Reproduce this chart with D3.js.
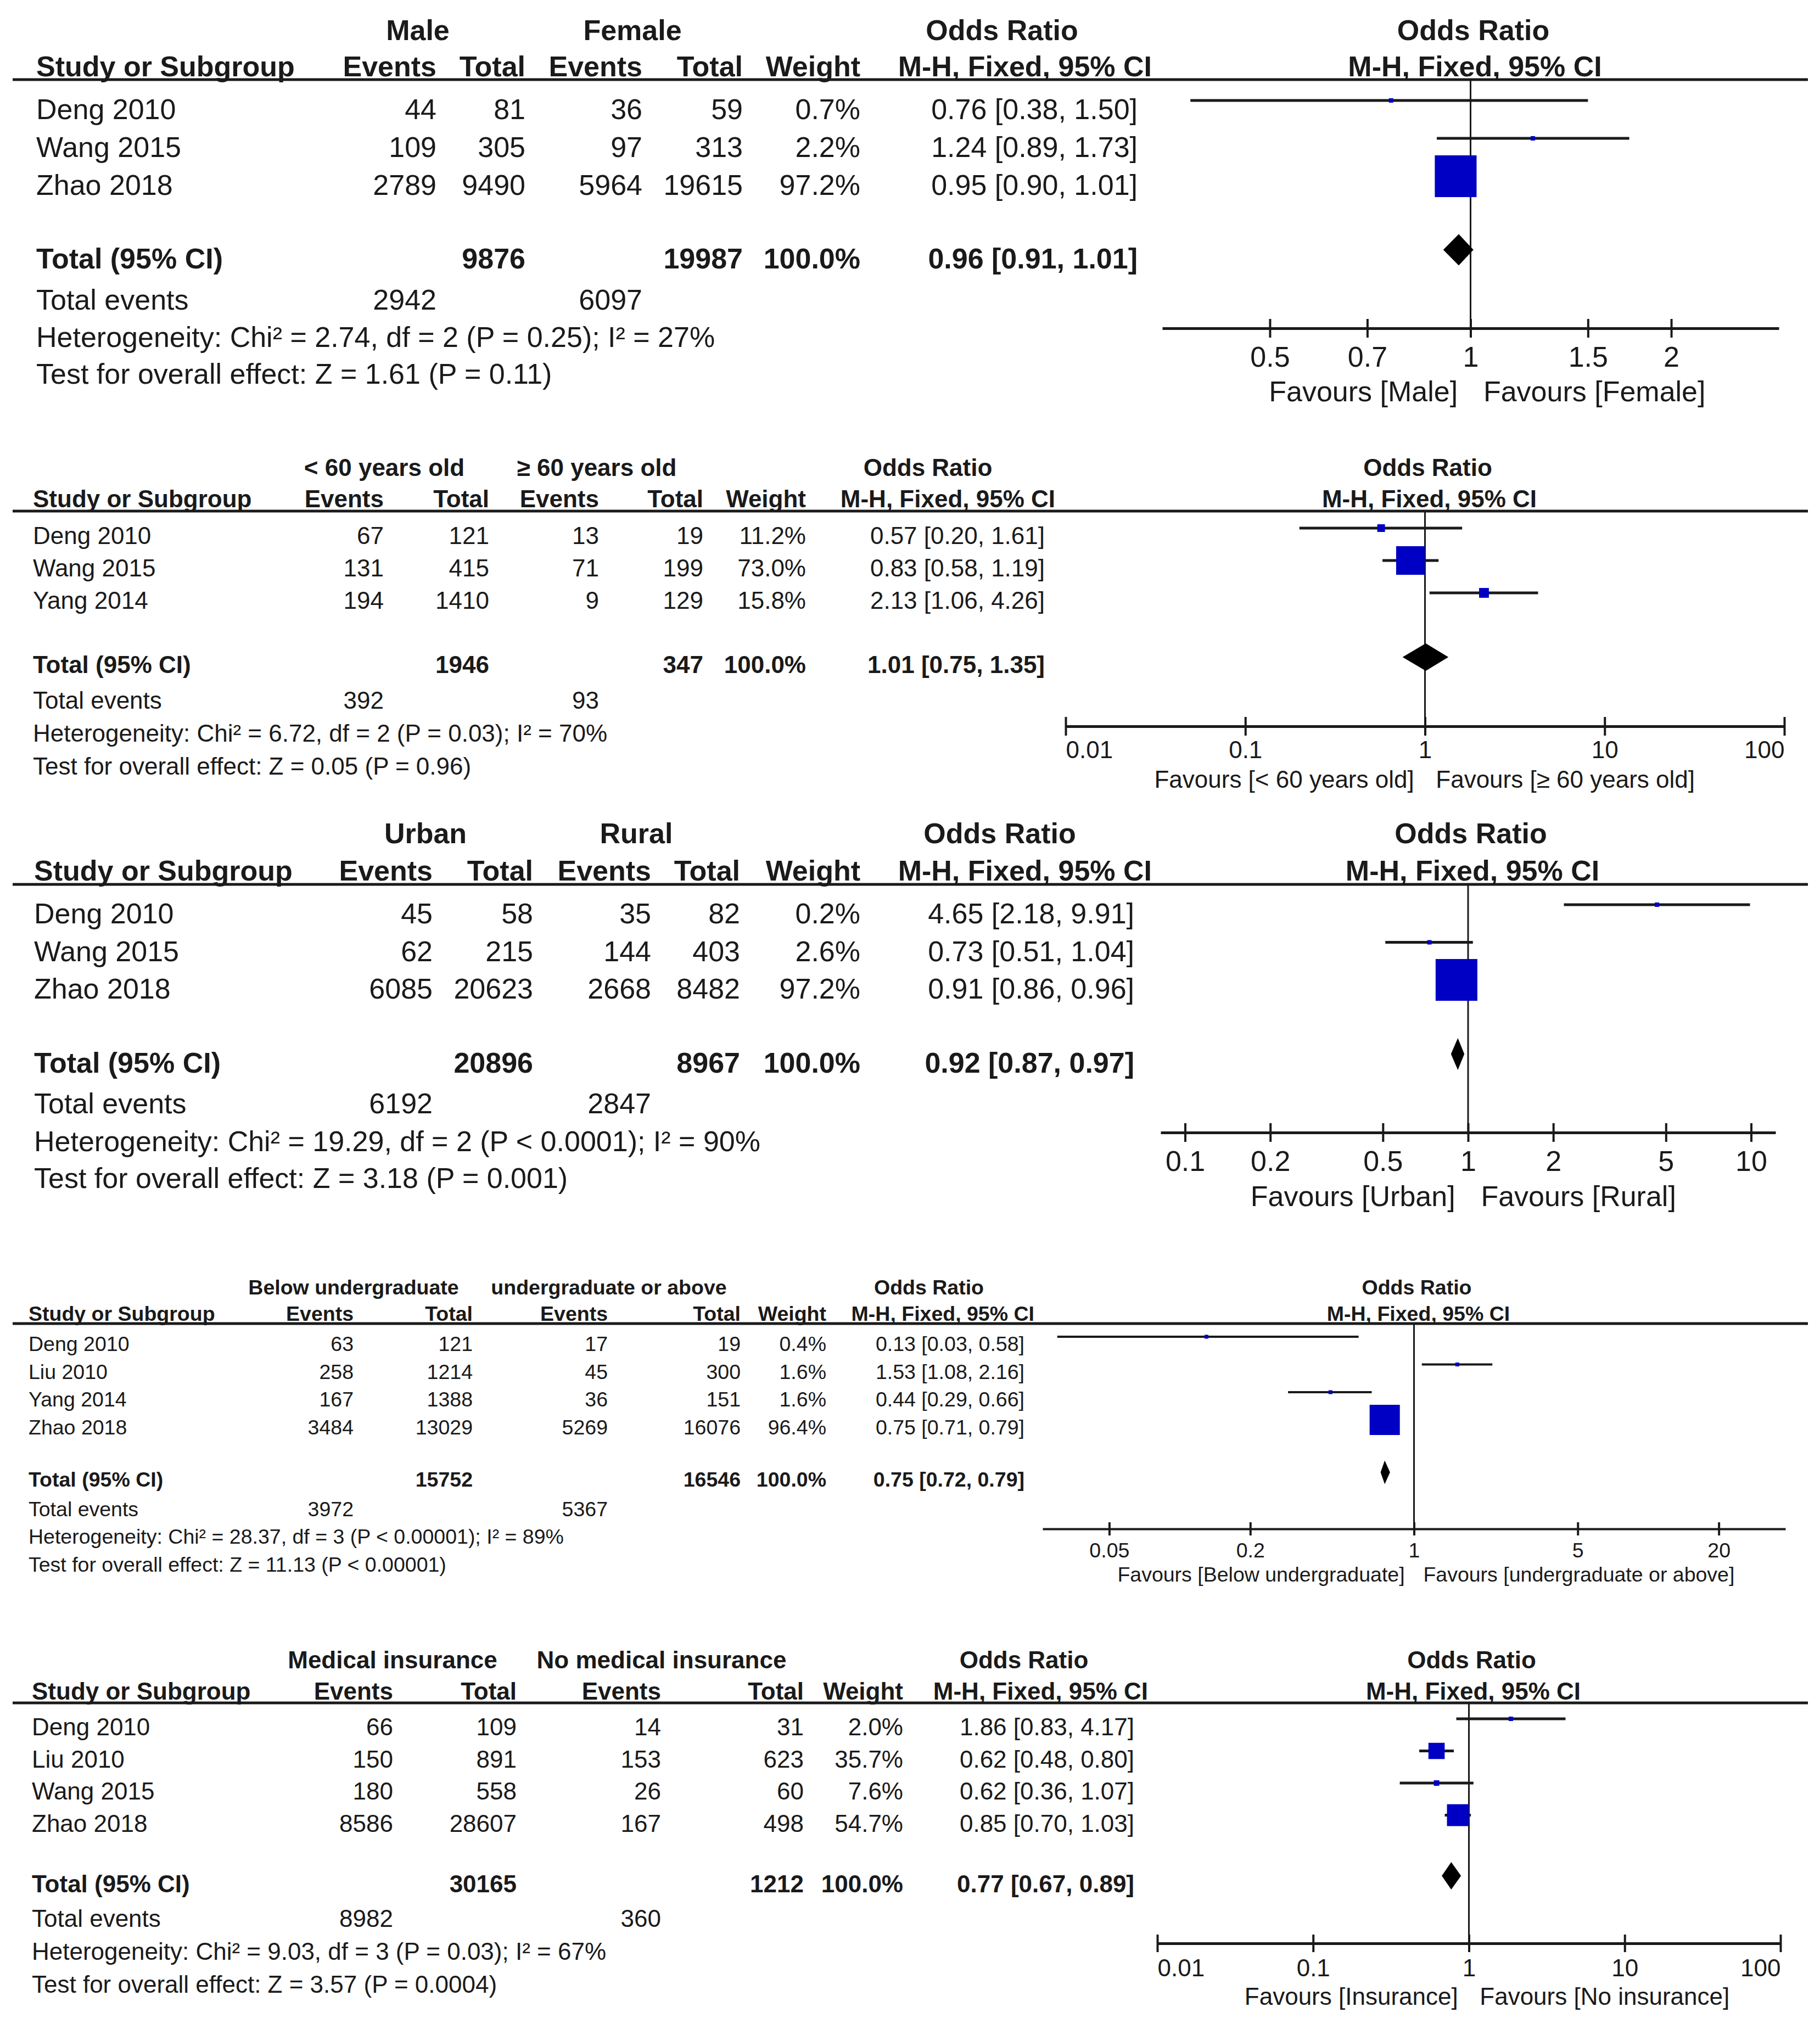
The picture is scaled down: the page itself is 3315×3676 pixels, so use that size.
<!DOCTYPE html>
<html>
<head>
<meta charset="utf-8">
<script src="https://cdn.jsdelivr.net/npm/d3@7"></script>
<style>
  body { margin: 0; background: #fff; }
  text { font-family: "Liberation Sans", Arial, sans-serif; fill: #1a1a1a; }
</style>
</head>
<body>
<div id="content"></div>
<script>
// ---------- data ----------

// sex
var sexGroups = ["Male", "Female"]
var sexStudies = ["Deng 2010", "Wang 2015", "Zhao 2018"]
var sexEv1 = [44, 109, 2789]
var sexN1 = [81, 305, 9490]
var sexEv2 = [36, 97, 5964]
var sexN2 = [59, 313, 19615]
var sexWeight = [0.7, 2.2, 97.2]
var sexOR = [0.76, 1.24, 0.95]
var sexLo = [0.38, 0.89, 0.90]
var sexHi = [1.50, 1.73, 1.01]
var sexTotal = [9876, 19987, 2942, 6097]
var sexPooled = [0.96, 0.91, 1.01]
var sexStats = ["Heterogeneity: Chi\u00b2 = 2.74, df = 2 (P = 0.25); I\u00b2 = 27%", "Test for overall effect: Z = 1.61 (P = 0.11)"]
var sexFavours = ["Favours [Male]", "Favours [Female]"]
var sexTicks = [0.5, 0.7, 1, 1.5, 2]

// age
var ageGroups = ["< 60 years old", "\u2265 60 years old"]
var ageStudies = ["Deng 2010", "Wang 2015", "Yang 2014"]
var ageEv1 = [67, 131, 194]
var ageN1 = [121, 415, 1410]
var ageEv2 = [13, 71, 9]
var ageN2 = [19, 199, 129]
var ageWeight = [11.2, 73.0, 15.8]
var ageOR = [0.57, 0.83, 2.13]
var ageLo = [0.20, 0.58, 1.06]
var ageHi = [1.61, 1.19, 4.26]
var ageTotal = [1946, 347, 392, 93]
var agePooled = [1.01, 0.75, 1.35]
var ageStats = ["Heterogeneity: Chi\u00b2 = 6.72, df = 2 (P = 0.03); I\u00b2 = 70%", "Test for overall effect: Z = 0.05 (P = 0.96)"]
var ageFavours = ["Favours [< 60 years old]", "Favours [\u2265 60 years old]"]
var ageTicks = [0.01, 0.1, 1, 10, 100]

// residence
var resGroups = ["Urban", "Rural"]
var resStudies = ["Deng 2010", "Wang 2015", "Zhao 2018"]
var resEv1 = [45, 62, 6085]
var resN1 = [58, 215, 20623]
var resEv2 = [35, 144, 2668]
var resN2 = [82, 403, 8482]
var resWeight = [0.2, 2.6, 97.2]
var resOR = [4.65, 0.73, 0.91]
var resLo = [2.18, 0.51, 0.86]
var resHi = [9.91, 1.04, 0.96]
var resTotal = [20896, 8967, 6192, 2847]
var resPooled = [0.92, 0.87, 0.97]
var resStats = ["Heterogeneity: Chi\u00b2 = 19.29, df = 2 (P < 0.0001); I\u00b2 = 90%", "Test for overall effect: Z = 3.18 (P = 0.001)"]
var resFavours = ["Favours [Urban]", "Favours [Rural]"]
var resTicks = [0.1, 0.2, 0.5, 1, 2, 5, 10]

// education
var eduGroups = ["Below undergraduate", "undergraduate or above"]
var eduStudies = ["Deng 2010", "Liu 2010", "Yang 2014", "Zhao 2018"]
var eduEv1 = [63, 258, 167, 3484]
var eduN1 = [121, 1214, 1388, 13029]
var eduEv2 = [17, 45, 36, 5269]
var eduN2 = [19, 300, 151, 16076]
var eduWeight = [0.4, 1.6, 1.6, 96.4]
var eduOR = [0.13, 1.53, 0.44, 0.75]
var eduLo = [0.03, 1.08, 0.29, 0.71]
var eduHi = [0.58, 2.16, 0.66, 0.79]
var eduTotal = [15752, 16546, 3972, 5367]
var eduPooled = [0.75, 0.72, 0.79]
var eduStats = ["Heterogeneity: Chi\u00b2 = 28.37, df = 3 (P < 0.00001); I\u00b2 = 89%", "Test for overall effect: Z = 11.13 (P < 0.00001)"]
var eduFavours = ["Favours [Below undergraduate]", "Favours [undergraduate or above]"]
var eduTicks = [0.05, 0.2, 1, 5, 20]

// insurance
var insGroups = ["Medical insurance", "No medical insurance"]
var insStudies = ["Deng 2010", "Liu 2010", "Wang 2015", "Zhao 2018"]
var insEv1 = [66, 150, 180, 8586]
var insN1 = [109, 891, 558, 28607]
var insEv2 = [14, 153, 26, 167]
var insN2 = [31, 623, 60, 498]
var insWeight = [2.0, 35.7, 7.6, 54.7]
var insOR = [1.86, 0.62, 0.62, 0.85]
var insLo = [0.83, 0.48, 0.36, 0.70]
var insHi = [4.17, 0.80, 1.07, 1.03]
var insTotal = [30165, 1212, 8982, 360]
var insPooled = [0.77, 0.67, 0.89]
var insStats = ["Heterogeneity: Chi\u00b2 = 9.03, df = 3 (P = 0.03); I\u00b2 = 67%", "Test for overall effect: Z = 3.57 (P = 0.0004)"]
var insFavours = ["Favours [Insurance]", "Favours [No insurance]"]
var insTicks = [0.01, 0.1, 1, 10, 100]

// ---------- layout of each panel (pixels) ----------
var layouts = [
  {fs:52, groupY:73, colY:139, lineY:145, row0:217, step:69, totalY:489, teY:564, hetY:632, testY:699,
   study:66, cols:[795,957,1170,1353,1567], orRight:2072, mhRight:2098, orTitle:1825, grp:[761,1152],
   domain:[1/2.9, 2.9], range:[2117,3240], axisY:598, tick:17, tickLabY:668, favY:731,
   off:34, boxMax:77.6, boxMin:8, diamondH:57, ciW:5},
  {fs:44, groupY:867, colY:924, lineY:931, row0:991, step:59, totalY:1226, teY:1291, hetY:1351, testY:1411,
   study:60, cols:[699,891,1091,1281,1468], orRight:1903, mhRight:1922, orTitle:1690, grp:[700,1087],
   domain:[0.01, 100], range:[1941,3250], axisY:1323, tick:17, tickLabY:1381, favY:1435,
   off:29, boxMax:65, boxMin:8, diamondH:50, ciW:5},
  {fs:52, groupY:1536, colY:1604, lineY:1611, row0:1682, step:68.5, totalY:1954, teY:2028, hetY:2097, testY:2164,
   study:62, cols:[788,971,1186,1348,1567], orRight:2066, mhRight:2098, orTitle:1821, grp:[775,1159],
   domain:[1/12.2, 12.2], range:[2114,3234], axisY:2063, tick:17, tickLabY:2133, favY:2197,
   off:34, boxMax:77.6, boxMin:8, diamondH:58, ciW:5},
  {fs:37.5, groupY:2358, colY:2406, lineY:2411, row0:2461, step:50.5, totalY:2708, teY:2762, hetY:2812, testY:2863,
   study:52, cols:[644,861,1107,1349,1505], orRight:1866, mhRight:1884, orTitle:1692, grp:[644,1109],
   domain:[1/38.5, 38.5], range:[1899,3252], axisY:2785, tick:12, tickLabY:2837, favY:2881,
   off:26, boxMax:56.5, boxMin:7, diamondH:43, ciW:4},
  {fs:44, groupY:3039, colY:3096, lineY:3102, row0:3161, step:58.5, totalY:3447, teY:3510, hetY:3570, testY:3630,
   study:58, cols:[716,941,1204,1464,1645], orRight:2066, mhRight:2091, orTitle:1865, grp:[715,1205],
   domain:[0.01, 100], range:[2108,3243], axisY:3540, tick:16, tickLabY:3600, favY:3652,
   off:30, boxMax:60.8, boxMin:8, diamondH:50, ciW:5}
]

// build panel tables from the arrays above
var panels = [
  {groups:sexGroups, studies:sexStudies, ev1:sexEv1, n1:sexN1, ev2:sexEv2, n2:sexN2, w:sexWeight, or:sexOR, lo:sexLo, hi:sexHi, total:sexTotal, pooled:sexPooled, stats:sexStats, fav:sexFavours, ticks:sexTicks},
  {groups:ageGroups, studies:ageStudies, ev1:ageEv1, n1:ageN1, ev2:ageEv2, n2:ageN2, w:ageWeight, or:ageOR, lo:ageLo, hi:ageHi, total:ageTotal, pooled:agePooled, stats:ageStats, fav:ageFavours, ticks:ageTicks},
  {groups:resGroups, studies:resStudies, ev1:resEv1, n1:resN1, ev2:resEv2, n2:resN2, w:resWeight, or:resOR, lo:resLo, hi:resHi, total:resTotal, pooled:resPooled, stats:resStats, fav:resFavours, ticks:resTicks},
  {groups:eduGroups, studies:eduStudies, ev1:eduEv1, n1:eduN1, ev2:eduEv2, n2:eduN2, w:eduWeight, or:eduOR, lo:eduLo, hi:eduHi, total:eduTotal, pooled:eduPooled, stats:eduStats, fav:eduFavours, ticks:eduTicks},
  {groups:insGroups, studies:insStudies, ev1:insEv1, n1:insN1, ev2:insEv2, n2:insN2, w:insWeight, or:insOR, lo:insLo, hi:insHi, total:insTotal, pooled:insPooled, stats:insStats, fav:insFavours, ticks:insTicks}
]

var ink = "#1a1a1a"
var boxBlue = "#0000c4"

function fmtCI(o, l, h) {
  return o.toFixed(2) + " [" + l.toFixed(2) + ", " + h.toFixed(2) + "]"
}

var svg = d3.select("#content").append("svg")
  .attr("width", 3315)
  .attr("height", 3676)

svg.append("rect").attr("width", 3315).attr("height", 3676).attr("fill", "#fff")

function drawPanel(d, L) {
  var g = svg.append("g")
  var fs = L.fs

  function txt(x, y, s, anchor, bold) {
    g.append("text")
      .attr("x", x)
      .attr("y", y)
      .attr("text-anchor", anchor || "start")
      .style("font-size", fs + "px")
      .style("font-weight", bold ? "bold" : "normal")
      .text(s)
  }

  var x = d3.scaleLog().domain(L.domain).range(L.range)
  var boxSize = d3.scalePow().exponent(0.7).domain([0, 100]).range([0, L.boxMax])
  var yRow = d3.scaleLinear().domain([0, 1]).range([L.row0, L.row0 + L.step])

  // header texts
  txt(L.grp[0], L.groupY, d.groups[0], "middle", true)
  txt(L.grp[1], L.groupY, d.groups[1], "middle", true)
  txt(L.orTitle, L.groupY, "Odds Ratio", "middle", true)
  txt(x(1) + 5, L.groupY, "Odds Ratio", "middle", true)

  txt(L.study, L.colY, "Study or Subgroup", "start", true)
  var colNames = ["Events", "Total", "Events", "Total", "Weight"]
  L.cols.forEach(function(cx, i) { txt(cx, L.colY, colNames[i], "end", true) })
  txt(L.mhRight, L.colY, "M-H, Fixed, 95% CI", "end", true)
  txt(x(1) + 8, L.colY, "M-H, Fixed, 95% CI", "middle", true)

  // rule under the headers
  g.append("line")
    .attr("x1", 23).attr("x2", 3293)
    .attr("y1", L.lineY).attr("y2", L.lineY)
    .attr("stroke", ink).attr("stroke-width", 5)

  // study rows
  d.studies.forEach(function(s, i) {
    var y = yRow(i)
    txt(L.study, y, s)
    txt(L.cols[0], y, d.ev1[i], "end")
    txt(L.cols[1], y, d.n1[i], "end")
    txt(L.cols[2], y, d.ev2[i], "end")
    txt(L.cols[3], y, d.n2[i], "end")
    txt(L.cols[4], y, d.w[i].toFixed(1) + "%", "end")
    txt(L.orRight, y, fmtCI(d.or[i], d.lo[i], d.hi[i]), "end")
  })

  // totals
  txt(L.study, L.totalY, "Total (95% CI)", "start", true)
  txt(L.cols[1], L.totalY, d.total[0], "end", true)
  txt(L.cols[3], L.totalY, d.total[1], "end", true)
  txt(L.cols[4], L.totalY, "100.0%", "end", true)
  txt(L.orRight, L.totalY, fmtCI(d.pooled[0], d.pooled[1], d.pooled[2]), "end", true)

  txt(L.study, L.teY, "Total events")
  txt(L.cols[0], L.teY, d.total[2], "end")
  txt(L.cols[2], L.teY, d.total[3], "end")
  txt(L.study, L.hetY, d.stats[0])
  txt(L.study, L.testY, d.stats[1])

  // line of no effect
  g.append("line")
    .attr("x1", x(1)).attr("x2", x(1))
    .attr("y1", L.lineY).attr("y2", L.axisY)
    .attr("stroke", ink).attr("stroke-width", 3)

  // confidence intervals and boxes
  d.studies.forEach(function(s, i) {
    var y = yRow(i) - L.off
    g.append("line")
      .attr("x1", x(d.lo[i])).attr("x2", x(d.hi[i]))
      .attr("y1", y).attr("y2", y)
      .attr("stroke", ink).attr("stroke-width", L.ciW)
    var side = Math.max(boxSize(d.w[i]), L.boxMin)
    g.append("rect")
      .attr("x", x(d.or[i]) - side / 2)
      .attr("y", y - side / 2)
      .attr("width", side)
      .attr("height", side)
      .attr("fill", boxBlue)
  })

  // pooled diamond
  var yd = L.totalY - L.off
  var h = L.diamondH / 2
  g.append("path")
    .attr("d", "M" + x(d.pooled[1]) + "," + yd +
               "L" + x(d.pooled[0]) + "," + (yd - h) +
               "L" + x(d.pooled[2]) + "," + yd +
               "L" + x(d.pooled[0]) + "," + (yd + h) + "Z")
    .attr("fill", "#000")

  // axis
  var ax = g.append("g")
    .attr("transform", "translate(0," + L.axisY + ")")
    .call(d3.axisBottom(x).tickValues(d.ticks).tickFormat(function(v) { return String(v) }).tickSize(0))
  ax.select(".domain").attr("stroke", ink).attr("stroke-width", L.ciW)
  ax.selectAll(".tick line")
    .attr("y1", -L.tick).attr("y2", L.tick)
    .attr("stroke", ink).attr("stroke-width", 4)
  ax.selectAll(".tick text")
    .attr("y", L.tickLabY - L.axisY)
    .attr("dy", null)
    .attr("text-anchor", function(v) {
      // labels sitting on the ends of the axis are kept inside it
      if (Math.abs(x(v) - L.range[0]) < 1) return "start"
      if (Math.abs(x(v) - L.range[1]) < 1) return "end"
      return "middle"
    })
    .style("font-size", fs + "px")

  // favours labels
  txt(x(1) - 0.45 * fs, L.favY, d.fav[0], "end")
  txt(x(1) + 0.45 * fs, L.favY, d.fav[1], "start")
}

panels.forEach(function(p, i) { drawPanel(p, layouts[i]) })
</script>
</body>
</html>
